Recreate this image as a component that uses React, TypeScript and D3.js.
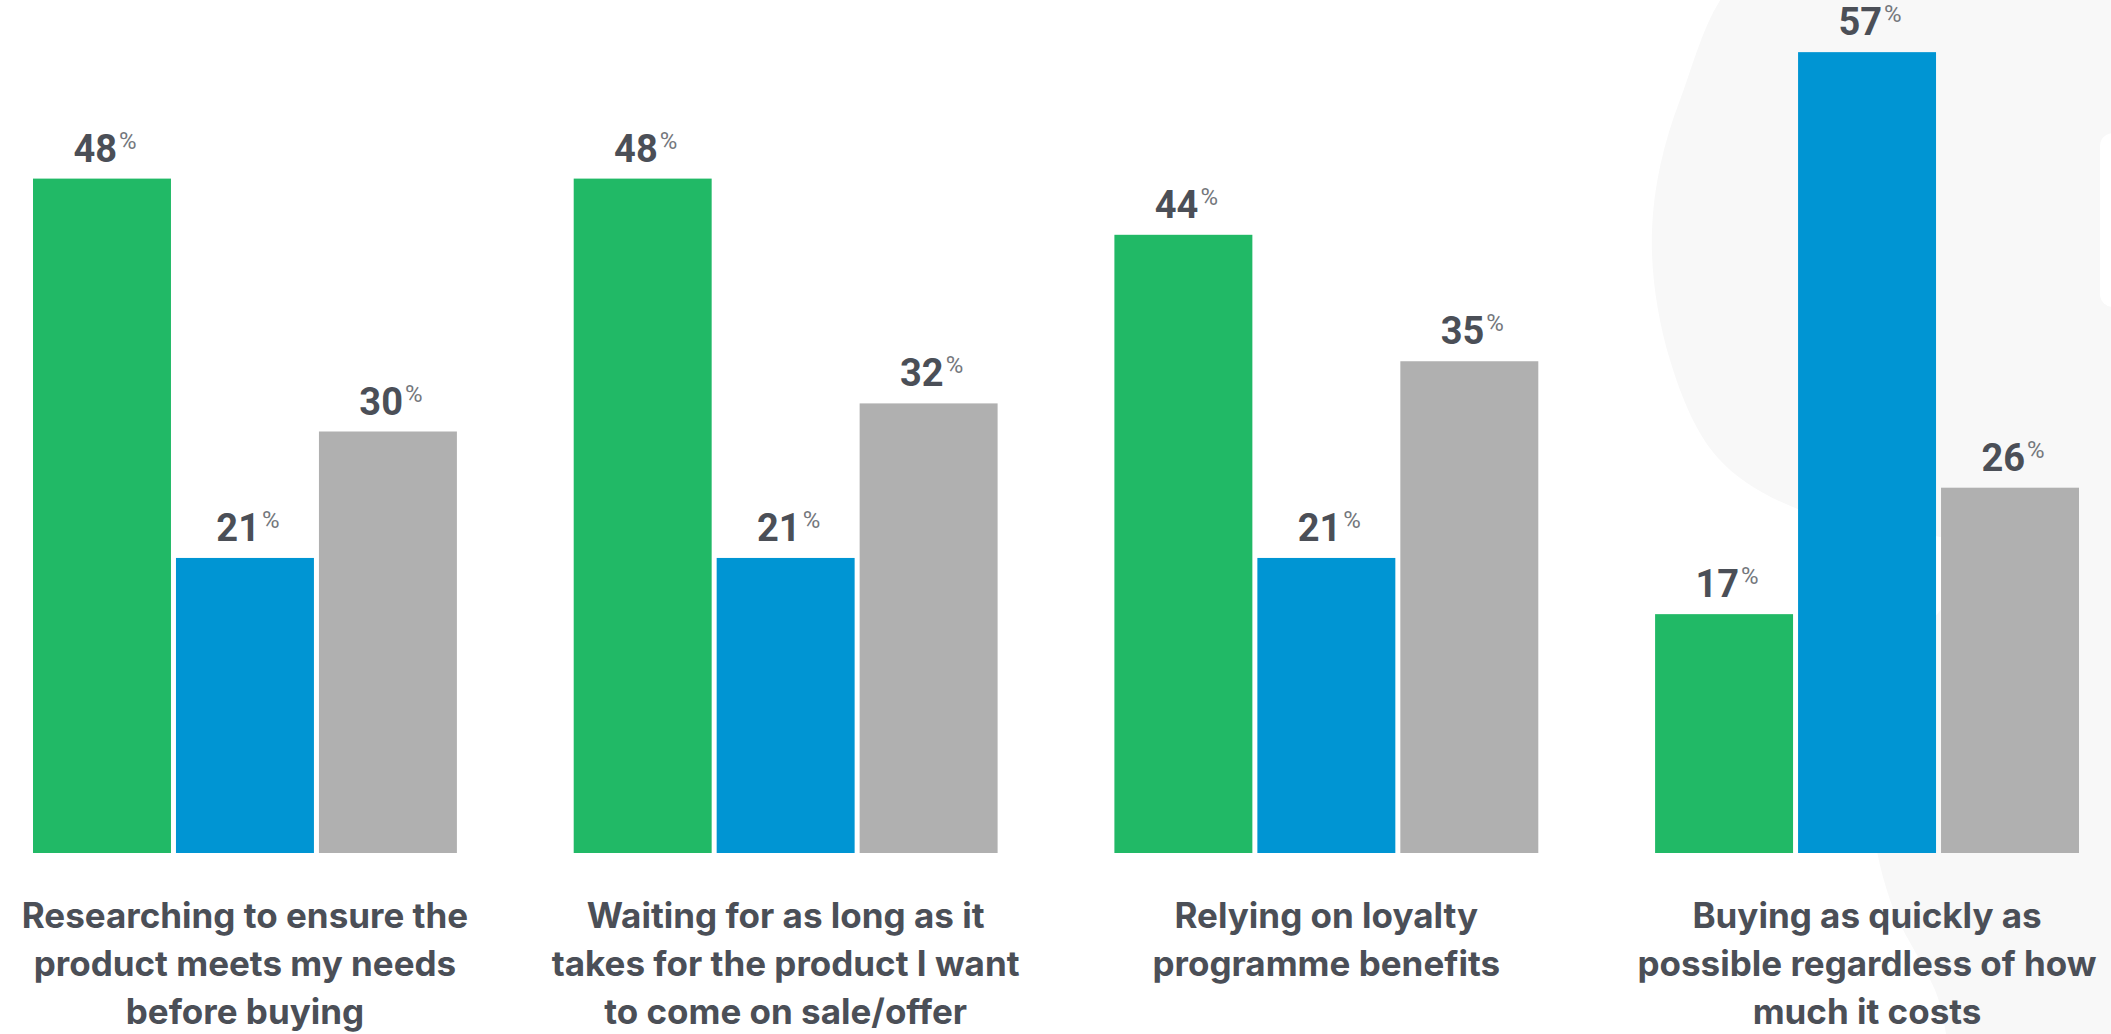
import React from "react";
import * as d3 from "d3";

const categories = [
  ["Researching to ensure the", "product meets my needs", "before buying"],
  ["Waiting for as long as it", "takes for the product I want", "to come on sale/offer"],
  ["Relying on loyalty", "programme benefits"],
  ["Buying as quickly as", "possible regardless of how", "much it costs"],
];
const seriesNames = ["green", "blue", "gray"];
const greenValues = [48, 48, 44, 17];
const blueValues = [21, 21, 21, 57];
const grayValues = [30, 32, 35, 26];
const seriesColors = ["#21b966", "#0095d3", "#b0b0b0"];

const W = 2111;
const H = 1034;
const BASE = 853;

export default function App() {
  const seriesValues = [greenValues, blueValues, grayValues];
  const x0 = d3
    .scaleBand<number>()
    .domain(d3.range(categories.length))
    .range([33, 2079])
    .paddingInner(0.216)
    .paddingOuter(0);
  const x1 = d3
    .scaleBand<number>()
    .domain(d3.range(seriesNames.length))
    .range([0, x0.bandwidth()])
    .paddingInner(0.035)
    .paddingOuter(0);
  const y = d3.scaleLinear().domain([0, 60]).range([BASE, BASE - 60 * 14.05]);

  const bgPts: [number, number][] = [
    [1760, -40], [2200, -40], [2200, 1100], [1975, 1100], [1935, 990], [1890, 900],
    [1872, 800], [1895, 680], [1960, 590], [2010, 560], [1940, 537], [1800, 510],
    [1718, 458], [1670, 360], [1652, 230], [1680, 100],
  ];
  const bgPath = d3.line().curve(d3.curveCatmullRomClosed.alpha(0.5))(bgPts) || "";

  const textColor = "#4b4f57";
  const numFont = "Roboto, 'Liberation Sans', sans-serif";
  const labelFont = "Inter, Roboto, sans-serif";

  return (
    <svg
      width={W}
      height={H}
      style={{ position: "absolute", left: 0, top: 0, background: "#ffffff" }}
    >
      <rect x={0} y={0} width={W} height={H} fill="#ffffff" />
      <path d={bgPath} fill="#f8f8f8" />
      <rect x={2100} y={133} width={60} height={174} rx={13} fill="#ffffff" />
      {categories.map((cat, ci) => {
        const gx = x0(ci)!;
        const cx = gx + x0.bandwidth() / 2;
        return (
          <g key={ci}>
            {seriesValues.map((vals, si) => {
              const v = vals[ci];
              const bx = gx + x1(si)!;
              const bw = x1.bandwidth();
              return (
                <g key={si}>
                  <rect
                    x={bx}
                    y={y(v)}
                    width={bw}
                    height={BASE - y(v)}
                    fill={seriesColors[si]}
                  />
                  <text
                    x={bx + bw / 2 + 3}
                    y={y(v) - 17}
                    textAnchor="middle"
                    fontFamily={numFont}
                    fontWeight={700}
                    fontSize={38}
                    fill={textColor}
                  >
                    <tspan>{v}</tspan>
                    <tspan
                      dx={2}
                      dy={-13}
                      fontSize={24}
                      fontWeight={400}
                      fill="#74777c"
                    >
                      %
                    </tspan>
                  </text>
                </g>
              );
            })}
            <text
              textAnchor="middle"
              fontFamily={labelFont}
              fontWeight={700}
              fontSize={35}
              fill={textColor}
            >
              {cat.map((line, li) => (
                <tspan key={li} x={cx} y={928 + li * 48}>
                  {line}
                </tspan>
              ))}
            </text>
          </g>
        );
      })}
    </svg>
  );
}
